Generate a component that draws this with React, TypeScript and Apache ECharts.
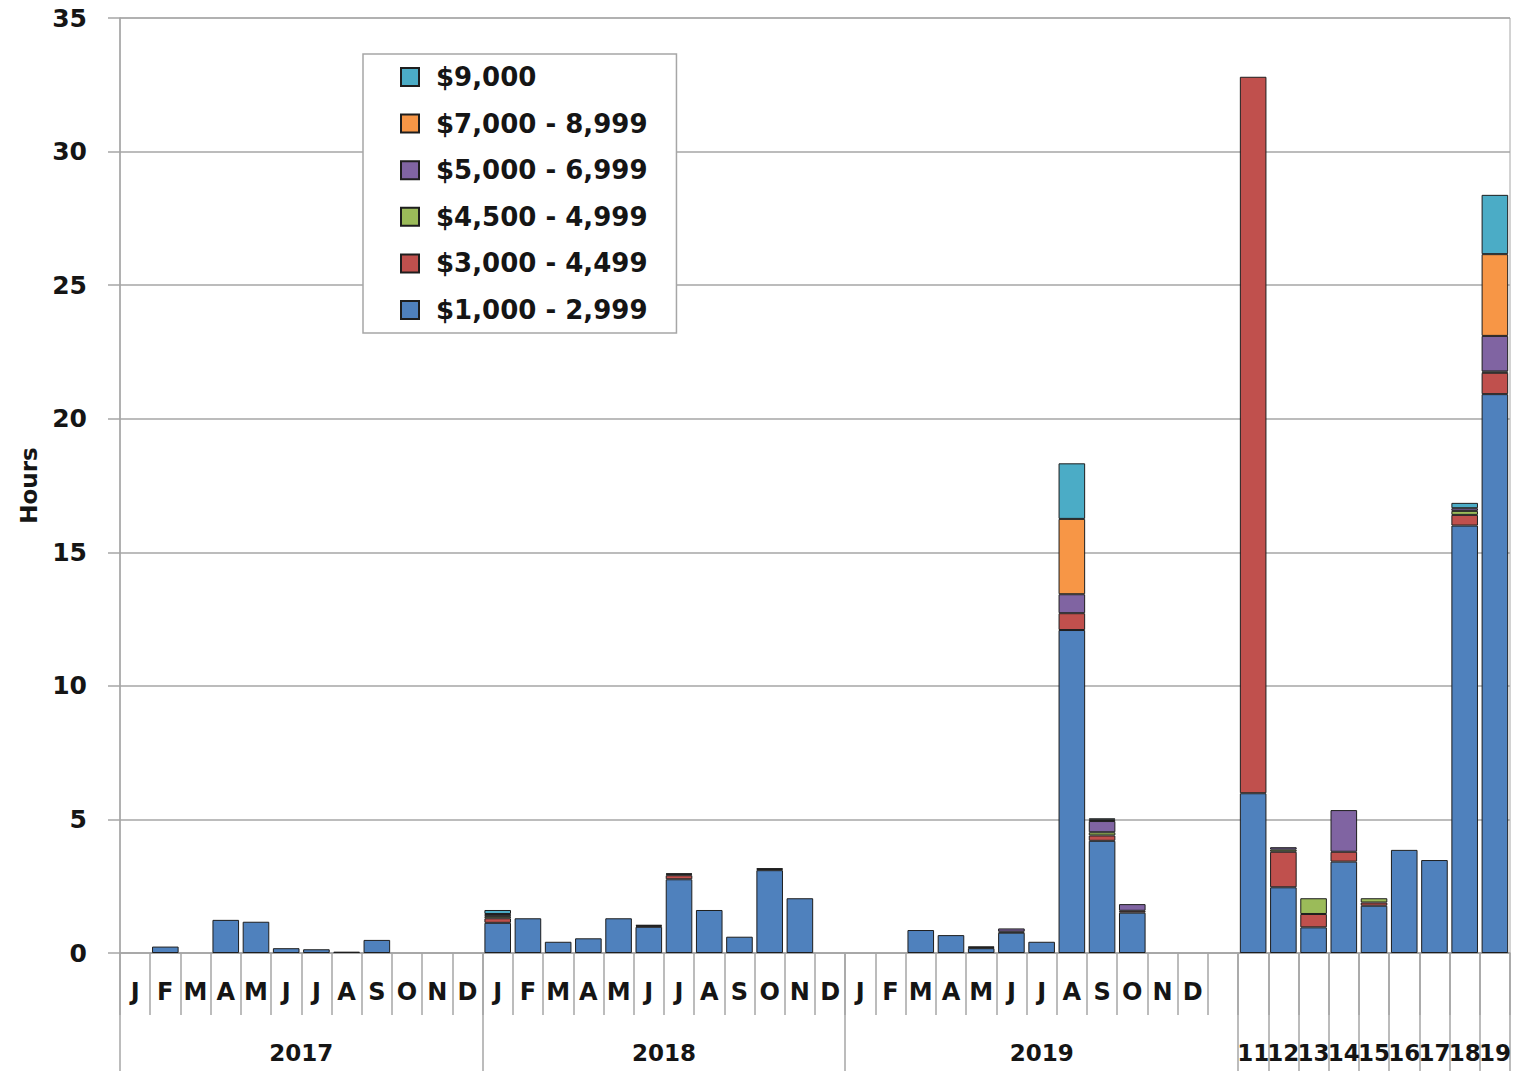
import React, { useEffect, useRef } from "react";
import * as echarts from "echarts";

const monthLetters = ["J", "F", "M", "A", "M", "J", "J", "A", "S", "O", "N", "D"];
const periodLabels = [
  ...monthLetters, // 2017
  ...monthLetters, // 2018
  ...monthLetters, // 2019
  "", // gap
  "", "", "", "", "", "", "", "", "", // 11..19
];
const groupLabels = ["2017", "2018", "2019"];
const numberLabels = ["11", "12", "13", "14", "15", "16", "17", "18", "19"];

const seriesNames = [
  "$1,000 - 2,999",
  "$3,000 - 4,499",
  "$4,500 - 4,999",
  "$5,000 - 6,999",
  "$7,000 - 8,999",
  "$9,000",
];
const seriesColors = ["#4f81bd", "#c0504d", "#9bbb59", "#8064a2", "#f79646", "#4bacc6"];

// 2017 J..D | 2018 J..D | 2019 J..D | gap | 11..19
const blue = [
  0, 0.24, 0, 1.24, 1.17, 0.18, 0.14, 0.05, 0.49, 0, 0, 0,
  1.13, 1.3, 0.42, 0.55, 1.3, 0.98, 2.76, 1.61, 0.61, 3.1, 2.05, 0,
  0, 0, 0.86, 0.67, 0.18, 0.76, 0.42, 12.09, 4.2, 1.51, 0, 0,
  0,
  5.98, 2.46, 0.96, 3.42, 1.77, 3.86, 3.48, 16.0, 20.92,
];
const red = [
  0, 0, 0, 0, 0, 0, 0, 0, 0, 0, 0, 0,
  0.17, 0, 0, 0, 0, 0.04, 0.15, 0, 0, 0.04, 0, 0,
  0, 0, 0, 0, 0.03, 0.04, 0, 0.63, 0.2, 0.07, 0, 0,
  0,
  26.82, 1.33, 0.5, 0.37, 0.12, 0, 0, 0.4, 0.8,
];
const green = [
  0, 0, 0, 0, 0, 0, 0, 0, 0, 0, 0, 0,
  0.08, 0, 0, 0, 0, 0, 0.04, 0, 0, 0, 0, 0,
  0, 0, 0, 0, 0.03, 0, 0, 0, 0.12, 0, 0, 0,
  0,
  0, 0.08, 0.59, 0, 0.16, 0, 0, 0.15, 0.05,
];
const purple = [
  0, 0, 0, 0, 0, 0, 0, 0, 0, 0, 0, 0,
  0.08, 0, 0, 0, 0, 0.03, 0.03, 0, 0, 0.03, 0, 0,
  0, 0, 0, 0, 0, 0.12, 0, 0.71, 0.42, 0.25, 0, 0,
  0,
  0, 0.09, 0, 1.56, 0, 0, 0, 0.1, 1.33,
];
const orange = [
  0, 0, 0, 0, 0, 0, 0, 0, 0, 0, 0, 0,
  0, 0, 0, 0, 0, 0, 0, 0, 0, 0, 0, 0,
  0, 0, 0, 0, 0, 0, 0, 2.82, 0.05, 0, 0, 0,
  0,
  0, 0, 0, 0, 0, 0, 0, 0, 3.06,
];
const cyan = [
  0, 0, 0, 0, 0, 0, 0, 0, 0, 0, 0, 0,
  0.15, 0, 0, 0, 0, 0, 0, 0, 0, 0, 0, 0,
  0, 0, 0, 0, 0, 0, 0, 2.08, 0.05, 0, 0, 0,
  0,
  0, 0, 0, 0, 0, 0, 0, 0.2, 2.22,
];
const seriesValues = [blue, red, green, purple, orange, cyan];

const yTicks = { min: 0, max: 35, interval: 5 };

// group sizes (in category slots) for the lower label row
const groupSizes = [12, 12, 13];

export default function App() {
  const ref = useRef<HTMLDivElement>(null);

  useEffect(() => {
    document.body.style.margin = "0";
    const chart = echarts.init(ref.current!, null, { renderer: "svg" });
    const n = periodLabels.length; // 46 slots
    // lower row built on half-slot positions (boundaryGap false): 2n+1 points
    const half: string[] = new Array(2 * n + 1).fill("");
    const longTicks = new Set<number>();
    let start = 0;
    groupSizes.forEach((size, gi) => {
      longTicks.add(2 * start);
      half[2 * start + size] = groupLabels[gi];
      start += size;
    });
    numberLabels.forEach((lab, i) => {
      const s = start + i;
      longTicks.add(2 * s);
      half[2 * s + 1] = lab;
    });
    longTicks.add(2 * n);

    const font = "DejaVu Sans";
    const textColor = "#151515";
    const gray = "#a6a6a6";

    chart.setOption({
      animation: false,
      backgroundColor: "#ffffff",
      textStyle: { fontFamily: font },
      grid: {
        left: 120,
        right: 4,
        top: 18,
        bottom: 118,
        show: true,
        borderColor: gray,
        borderWidth: 1,
      },
      legend: {
        orient: "vertical",
        left: 363,
        top: 54,
        data: [...seriesNames].reverse(),
        icon: "rect",
        itemWidth: 18,
        itemHeight: 18,
        itemGap: 16.6,
        padding: [8, 29, 8, 37],
        backgroundColor: "#ffffff",
        borderColor: gray,
        borderWidth: 1.5,
        textStyle: {
          fontFamily: font,
          fontWeight: "bold",
          fontSize: 26,
          color: textColor,
          lineHeight: 30,
          padding: [0, 0, 0, 12],
        },
      },
      xAxis: [
        {
          type: "category",
          data: periodLabels,
          boundaryGap: true,
          axisLine: { show: true, lineStyle: { color: gray, width: 1.5 } },
          axisTick: { show: true, interval: 0, length: 62, lineStyle: { color: gray, width: 1.5 } },
          axisLabel: {
            interval: 0,
            margin: 27,
            fontFamily: font,
            fontWeight: "bold",
            fontSize: 24,
            color: textColor,
          },
          splitLine: { show: false },
        },
        {
          type: "category",
          data: half,
          boundaryGap: false,
          position: "bottom",
          axisLine: { show: false },
          axisTick: {
            show: true,
            interval: (idx: number) => longTicks.has(idx),
            length: 118,
            lineStyle: { color: gray, width: 1.5 },
          },
          axisLabel: {
            interval: 0,
            margin: 88,
            fontFamily: font,
            fontWeight: "bold",
            fontSize: 23,
            color: textColor,
          },
          splitLine: { show: false },
        },
      ],
      yAxis: {
        type: "value",
        min: yTicks.min,
        max: yTicks.max,
        interval: yTicks.interval,
        name: "Hours",
        nameLocation: "middle",
        nameRotate: 90,
        nameGap: 80,
        nameTextStyle: { fontFamily: font, fontWeight: "bold", fontSize: 23, color: textColor },
        axisLine: { show: true, lineStyle: { color: gray, width: 1.5 } },
        axisTick: { show: true, inside: false, length: 12, lineStyle: { color: gray, width: 1.5 } },
        axisLabel: {
          margin: 33,
          fontFamily: font,
          fontWeight: "bold",
          fontSize: 25,
          color: textColor,
        },
        splitLine: { show: true, lineStyle: { color: gray, width: 1.5 } },
      },
      series: seriesNames.map((name, i) => ({
        name,
        type: "bar",
        stack: "total",
        xAxisIndex: 0,
        barCategoryGap: "12%",
        data: seriesValues[i].map((v) => (v === 0 ? null : v)),
        itemStyle: { color: seriesColors[i], borderColor: "#1e1e1e", borderWidth: 1 },
        emphasis: { disabled: true },
      })),
    });
    return () => chart.dispose();
  }, []);

  return <div ref={ref} style={{ width: 1514, height: 1071 }} />;
}
